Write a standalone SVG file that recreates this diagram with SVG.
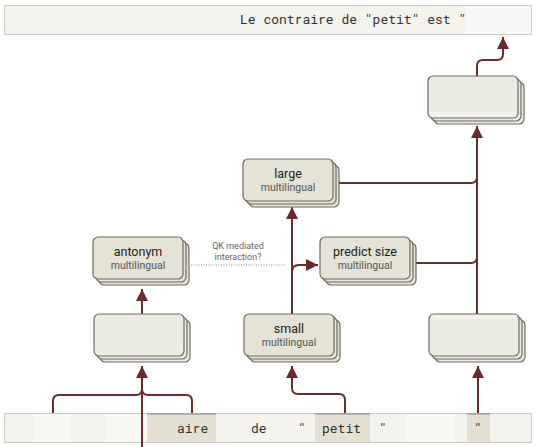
<svg xmlns="http://www.w3.org/2000/svg" width="537" height="447" viewBox="0 0 537 447">
<defs>
<style>
.bar{fill:#f4f3ee;stroke:#c9c8c0;stroke-width:1}
.cell{fill:#e4e1d4}
.celltop{stroke:#8c897c;stroke-width:1}
.mono{font-family:"Roboto Mono","DejaVu Sans Mono","Liberation Mono",monospace;font-size:13px;fill:#333}
.nb{fill:#e5e2d6;stroke:#6f6d5f;stroke-width:1.2}
.nbl{fill:#ecebe3;stroke:#6f6d5f;stroke-width:1.2}
.t1{font-family:Roboto,"Liberation Sans",sans-serif;font-size:12.5px;fill:#222;stroke:none;text-anchor:middle}
.t2{font-family:Roboto,"Liberation Sans",sans-serif;font-size:10.5px;fill:#555;stroke:none;text-anchor:middle}
.lab{font-family:Roboto,"Liberation Sans",sans-serif;font-size:9px;fill:#666;text-anchor:middle}
.c{fill:none;stroke:#6a2b2d;stroke-width:2}
.ca{fill:none;stroke:#6a2b2d;stroke-width:2;marker-end:url(#ah)}
</style>
<marker id="ah" markerUnits="userSpaceOnUse" markerWidth="12" markerHeight="12" viewBox="0 0 10 10" refX="10" refY="5" orient="auto">
<path d="M0,0 L10,5 L0,10 z" fill="#6a2b2d"/>
</marker>
<g id="stack">
<rect x="6" y="6" width="90" height="42" rx="5"/>
<rect x="3" y="3" width="90" height="42" rx="5"/>
<rect x="0" y="0" width="90" height="42" rx="5"/>
</g>
</defs>

<g id="top-bar">
<rect class="bar" x="4.5" y="5.5" width="527" height="29"/>
<rect x="466" y="6" width="65" height="28" fill="#fafaf7" opacity="0.9"/>
<text class="mono" x="240" y="24">Le contraire de "petit" est "</text>
</g>

<g id="token-bar">
<rect class="bar" x="4.5" y="413.5" width="527" height="29"/>
<rect x="35" y="414" width="35" height="28" fill="#f8f8f4"/>
<rect x="107" y="414" width="63" height="28" fill="#f8f8f4"/>
<rect class="cell" x="147" y="414" width="69" height="28"/>
<rect class="cell" x="315" y="414" width="55" height="28"/>
<rect x="405" y="414" width="48" height="28" fill="#f9f9f6"/>
<rect class="cell" x="467" y="414" width="23" height="28"/>
<line class="celltop" x1="147" y1="414" x2="216" y2="414"/>
<line class="celltop" x1="315" y1="414" x2="370" y2="414"/>
<line class="celltop" x1="467" y1="414" x2="490" y2="414"/>
<text class="mono" x="177" y="433">aire</text>
<text class="mono" x="251" y="433">de</text>
<text class="mono" x="298" y="433">"</text>
<text class="mono" x="322" y="433">petit</text>
<text class="mono" x="379" y="433">"</text>
<text class="mono" x="474" y="433">"</text>
</g>

<g id="connectors">
<path class="ca" d="M477,76 V66 Q477,60 483,60 H497 Q503,60 503,54 V37"/>
<path class="ca" d="M477,314 V126"/>
<path class="c" d="M335,183 H471 Q477,183 477,177"/>
<path class="c" d="M412,263 H471 Q477,263 477,257"/>
<path class="ca" d="M478,413 V366"/>
<path class="ca" d="M292,314 V207"/>
<path class="ca" d="M292,272 Q292,265 299,265 H318"/>
<path class="ca" d="M142,314 V289"/>
<path fill="none" stroke="#8a8a8a" stroke-width="1" stroke-dasharray="1,1.5" d="M191,265 H285"/>
<path class="c" d="M53,413 V401 Q53,395 59,395 H136 Q142,395 142,389"/>
<path class="c" d="M192,413 V401 Q192,395 186,395 H148 Q142,395 142,389"/>
<path class="ca" d="M142,447 V366"/>
<path class="ca" d="M345,413 V400 Q345,394 339,394 H298 Q292,394 292,388 V366"/>
</g>

<g id="dotted-label">
<text class="lab" x="238" y="249">QK mediated</text>
<text class="lab" x="238" y="260">interaction?</text>
</g>

<g id="node-top" class="nbl" transform="translate(428,76)">
<use href="#stack"/>
<rect x="2" y="36" width="86" height="5" fill="#f4f3ee" stroke="none"/>
</g>

<g id="node-large" class="nb" transform="translate(243,159)">
<use href="#stack"/>
<text class="t1" x="45" y="19">large</text>
<text class="t2" x="45" y="32">multilingual</text>
</g>

<g id="node-antonym" class="nb" transform="translate(93,237)">
<use href="#stack"/>
<text class="t1" x="45" y="19">antonym</text>
<text class="t2" x="45" y="32">multilingual</text>
</g>

<g id="node-predict" class="nb" transform="translate(320,237)">
<use href="#stack"/>
<text class="t1" x="45" y="19">predict size</text>
<text class="t2" x="45" y="32">multilingual</text>
</g>

<g id="node-left" class="nbl" transform="translate(94,314)">
<use href="#stack"/>
</g>

<g id="node-small" class="nb" transform="translate(244,314)">
<use href="#stack"/>
<text class="t1" x="45" y="19">small</text>
<text class="t2" x="45" y="32">multilingual</text>
</g>

<g id="node-right" class="nbl" transform="translate(429,314)">
<use href="#stack"/>
<rect x="2" y="1" width="86" height="4" fill="#f4f3ee" stroke="none"/>
</g>
</svg>
